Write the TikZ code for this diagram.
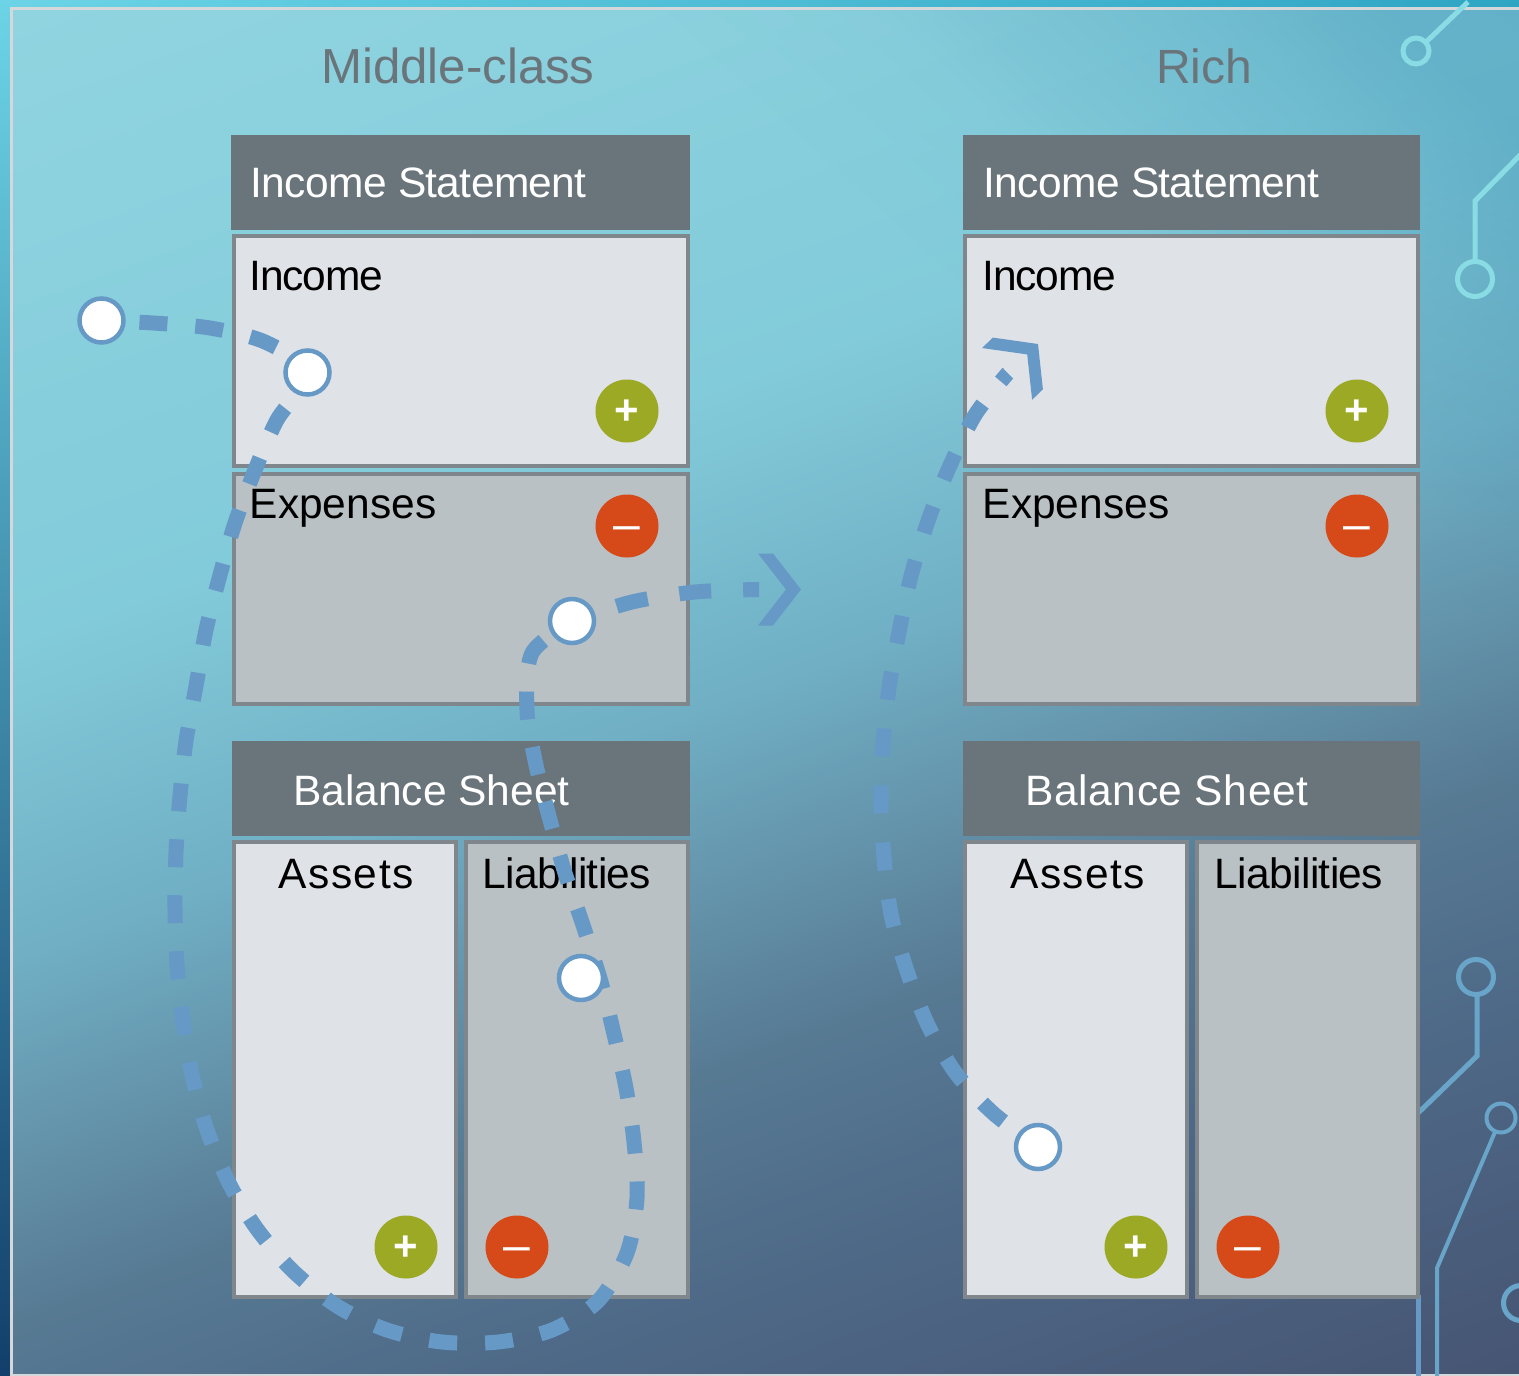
\documentclass[tikz,border=0pt]{standalone}
\usepackage{fontspec}
\setmainfont{Liberation Sans}
\newfontfamily\tightfont[LetterSpace=-1.5]{Liberation Sans}
\newfontfamily\tighterfont[LetterSpace=-2.8]{Liberation Sans}
\newfontfamily\widefont[LetterSpace=1.5]{Liberation Sans}
\newfontfamily\widerfont[LetterSpace=3.5]{Liberation Sans}
\usetikzlibrary{arrows.meta,backgrounds,shadings,fadings}

\definecolor{headgray}{HTML}{6A757B}
\definecolor{edgegray}{HTML}{7F878D}
\definecolor{lightbox}{HTML}{DFE2E7}
\definecolor{darkbox}{HTML}{B9C1C4}
\definecolor{flowblue}{HTML}{6699C6}
\definecolor{plusgreen}{HTML}{9CA924}
\definecolor{minusred}{HTML}{D64A1A}
\definecolor{wirecyan}{HTML}{8ADCE4}
\definecolor{wireblue}{HTML}{69A5C8}
\definecolor{rimleft}{HTML}{6CD4E6}
\definecolor{rimright}{HTML}{2FA5C4}
\definecolor{rimlow}{HTML}{123F6B}
\definecolor{rimline}{HTML}{D5D8DA}
\definecolor{cornertint}{HTML}{4A9DBB}

\pgfdeclarehorizontalshading{slideshade}{100bp}{
  rgb(0bp)=(0.565,0.831,0.878);
  rgb(18bp)=(0.565,0.831,0.878);
  rgb(39.2bp)=(0.510,0.796,0.855);
  rgb(49.8bp)=(0.439,0.686,0.769);
  rgb(55.1bp)=(0.400,0.596,0.686);
  rgb(62.1bp)=(0.341,0.478,0.576);
  rgb(69.2bp)=(0.306,0.416,0.533);
  rgb(82bp)=(0.275,0.333,0.451);
  rgb(100bp)=(0.275,0.333,0.451)}
\pgfdeclarehorizontalshading{cornershade}{100bp}{
  rgb(0bp)=(0,0,0);
  rgb(63bp)=(0,0,0);
  rgb(67.5bp)=(0.05,0.05,0.05);
  rgb(69.3bp)=(0.15,0.15,0.15);
  rgb(73.7bp)=(0.32,0.32,0.32);
  rgb(78bp)=(0.55,0.55,0.55);
  rgb(100bp)=(0.6,0.6,0.6)}
\pgfdeclarefading{cornerfade}{\pgfuseshading{cornershade}}

% open chevron with flat ends, the line stops well before it
\pgfdeclarearrow{
  name=flowchevron,
  setup code={
    \pgfarrowssettipend{0pt}
    \pgfarrowssetlineend{-42pt}
    \pgfarrowssetbackend{-43pt}
  },
  drawing code={
    \pgfpathmoveto{\pgfpoint{0pt}{0pt}}
    \pgfpathlineto{\pgfpoint{-28pt}{36pt}}
    \pgfpathlineto{\pgfpoint{-43pt}{36pt}}
    \pgfpathlineto{\pgfpoint{-15pt}{0pt}}
    \pgfpathlineto{\pgfpoint{-43pt}{-36pt}}
    \pgfpathlineto{\pgfpoint{-28pt}{-36pt}}
    \pgfpathclose
    \pgfusepathqfill
  }
}

\tikzset{
  headbox/.style={draw=none,fill=headgray,rectangle,inner sep=0,outer sep=0,anchor=north west},
  lightpanel/.style={draw=edgegray,line width=4pt,fill=lightbox,rectangle,inner sep=0,outer sep=0,anchor=north west},
  darkpanel/.style={lightpanel,fill=darkbox},
  headtext/.style={anchor=base west,inner sep=0,text=white,font=\fontsize{42.5}{50}\selectfont},
  paneltext/.style={headtext,text=black},
  titletext/.style={anchor=base west,inner sep=0,text=headgray,font=\fontsize{48}{56}\selectfont},
  plusbadge/.style={circle,fill=plusgreen,text=white,minimum size=63pt,inner sep=0,
    text height=26pt,text depth=0pt,font=\fontsize{42}{42}\selectfont\bfseries},
  minusbadge/.style={circle,fill=minusred,text=white,minimum size=63pt,inner sep=0,
    text height=29.4pt,text depth=0pt,font=\fontsize{48}{48}\selectfont},
  flowdot/.style={circle,draw=flowblue,line width=4.5pt,fill=white,minimum size=44pt,inner sep=0,outer sep=0},
  flowline/.style={color=flowblue,line width=15pt},
  wire/.style={line width=5pt}
}

\begin{document}
\begin{tikzpicture}[x=1pt,y=-1pt]
\useasboundingbox (0,0) rectangle (1519,1376);

% dots come first, all the rest goes behind them
\node[flowdot] (startdot) at (101.5,320.5) {};
\node[flowdot] (incomedot) at (307.5,372.5) {};
\node[flowdot] (liabdot) at (581,978) {};
\node[flowdot] (expdot) at (572,621) {};
\node[flowdot] (assetdot) at (1038,1147) {};

\begin{scope}[on background layer]
% slide
\shade[upper left=rimleft,upper right=rimright,lower left=rimlow,lower right=rimlow]
  (0,0) rectangle (1519,1376);
\shade[shading=slideshade,shading angle=-70] (11,8) rectangle (1519,1375);
\begin{scope}
\clip (11,8) rectangle (1519,1375);
\fill[cornertint,path fading=cornerfade,fading angle=45] (-100,-100) rectangle (1619,1476);
\end{scope}
\draw[rimline,line width=3pt] (1519,8) -- (11,8) -- (11,1375) -- (1519,1375);

% circuit
\draw[wirecyan,wire] (1468,2) -- (1426,42);
\draw[wirecyan,wire] (1416,51) circle[radius=13];
\draw[wirecyan,wire] (1525,150) -- (1475,201) -- (1475,262);
\draw[wirecyan,wire] (1475,279) circle[radius=17.5];
\draw[wireblue,wire] (1476,977) circle[radius=17.5];
\draw[wireblue,wire] (1477,996) -- (1477,1056) -- (1415,1116);
\draw[wireblue,line width=4pt] (1501,1118) circle[radius=14.5];
\draw[wireblue,line width=4pt] (1495,1132) -- (1437,1268) -- (1437,1376);
\draw[wireblue,wire] (1521,1303) circle[radius=17.5];
\draw[flowblue,line width=5pt] (1418,1295) -- (1418,1376);

% Middle-class
\node[titletext,font=\fontsize{49.2}{56}\selectfont] (midtitle) at (321,83.5) {Middle-class};
\node[headbox,minimum width=459pt,minimum height=95pt] (midincomehead) at (231,135) {};
\node[headtext] (midincometitle) at (250.5,197.5) {\tightfont Income Statement};
\node[lightpanel,minimum width=454pt,minimum height=230pt] (midincome) at (234,236) {};
\node[paneltext] (midincomelabel) at (249.5,290) {\tighterfont Income};
\node[darkpanel,minimum width=454pt,minimum height=230pt] (midexpenses) at (234,474) {};
\node[paneltext] (midexpenseslabel) at (249.5,518.5) {Expenses};
\node[headbox,minimum width=458pt,minimum height=95pt] (midbalancehead) at (232,741) {};
\node[headtext] (midbalancetitle) at (293,805.5) {Balance Sheet};
\node[lightpanel,minimum width=222pt,minimum height=455pt] (midassets) at (234,842) {};
\node[paneltext] (midassetslabel) at (278.5,888.5) {\widerfont Assets};
\node[darkpanel,minimum width=222pt,minimum height=455pt] (midliabs) at (466,842) {};
\node[paneltext] (midliabslabel) at (482.5,888.5) {\tightfont Liabilities};
\node[plusbadge] (midincomeplus) at (627,411) {+};
\node[minusbadge] (midexpensesminus) at (627,526) {–};
\node[plusbadge] (midassetsplus) at (406,1247) {+};
\node[minusbadge] (midliabsminus) at (517,1247) {–};

% Rich
\node[titletext] (richtitle) at (1156,83.5) {Rich};
\node[headbox,minimum width=457.5pt,minimum height=95pt] (richincomehead) at (962.5,135) {};
\node[headtext] (richincometitle) at (983.5,197.5) {\tightfont Income Statement};
\node[lightpanel,minimum width=453pt,minimum height=230pt] (richincome) at (965,236) {};
\node[paneltext] (richincomelabel) at (982.5,290) {\tighterfont Income};
\node[darkpanel,minimum width=453pt,minimum height=230pt] (richexpenses) at (965,474) {};
\node[paneltext] (richexpenseslabel) at (982.5,518.5) {Expenses};
\node[headbox,minimum width=457.5pt,minimum height=95pt] (richbalancehead) at (962.5,741) {};
\node[headtext] (richbalancetitle) at (1025,805.5) {\widefont Balance Sheet};
\node[lightpanel,minimum width=222pt,minimum height=455pt] (richassets) at (965,842) {};
\node[paneltext] (richassetslabel) at (1010,888.5) {\widerfont Assets};
\node[darkpanel,minimum width=221pt,minimum height=455pt] (richliabs) at (1197,842) {};
\node[paneltext] (richliabslabel) at (1214.5,888.5) {\tightfont Liabilities};
\node[plusbadge] (richincomeplus) at (1357,411) {+};
\node[minusbadge] (richexpensesminus) at (1357,526) {–};
\node[plusbadge] (richassetsplus) at (1136,1247) {+};
\node[minusbadge] (richliabsminus) at (1248,1247) {–};

% flow lines
\coordinate (midtip) at (801,589.5);
\coordinate (richtip) at (1038,344);
\draw[flowline,dash pattern=on 28pt off 28pt,dash phase=18pt] plot[smooth] coordinates {(startdot.center) (153,323) (210,328) (265,342)
  (incomedot.center) (277,420) (255,470) (235,523) (220,575) (206,630) (196,686) (186,741) (180,796)
  (176,852) (175,908) (177,964) (183,1020) (192,1075) (207,1130) (229,1183) (257,1229) (293,1271)
  (337,1306) (387,1330) (442,1342) (498,1342) (552,1330) (598,1301) (627,1253) (637,1198) (634,1142)
  (626,1088) (614,1034) (601,982) (583,925) (565,873) (550,820) (536,765) (527,710) (532,653) (expdot.center)};
\draw[flowline,-flowchevron,dash pattern=on 32pt off 32pt,dash phase=17pt] plot[smooth] coordinates {(expdot.center)
  (632,602) (695,592) (758.5,589.5)} -- (midtip);
\draw[flowline,-flowchevron,dash pattern=on 28pt off 29pt,dash phase=14pt] plot[smooth] coordinates {(assetdot.center) (993,1113) (955,1072) (927,1023)
  (906,968) (891,914) (884,858) (881,801) (883,745) (889,688) (899,632) (911,576) (928,521) (948,470)
  (975,415) (1007.5,373.5)} -- (richtip);
\end{scope}
\end{tikzpicture}
\end{document}
